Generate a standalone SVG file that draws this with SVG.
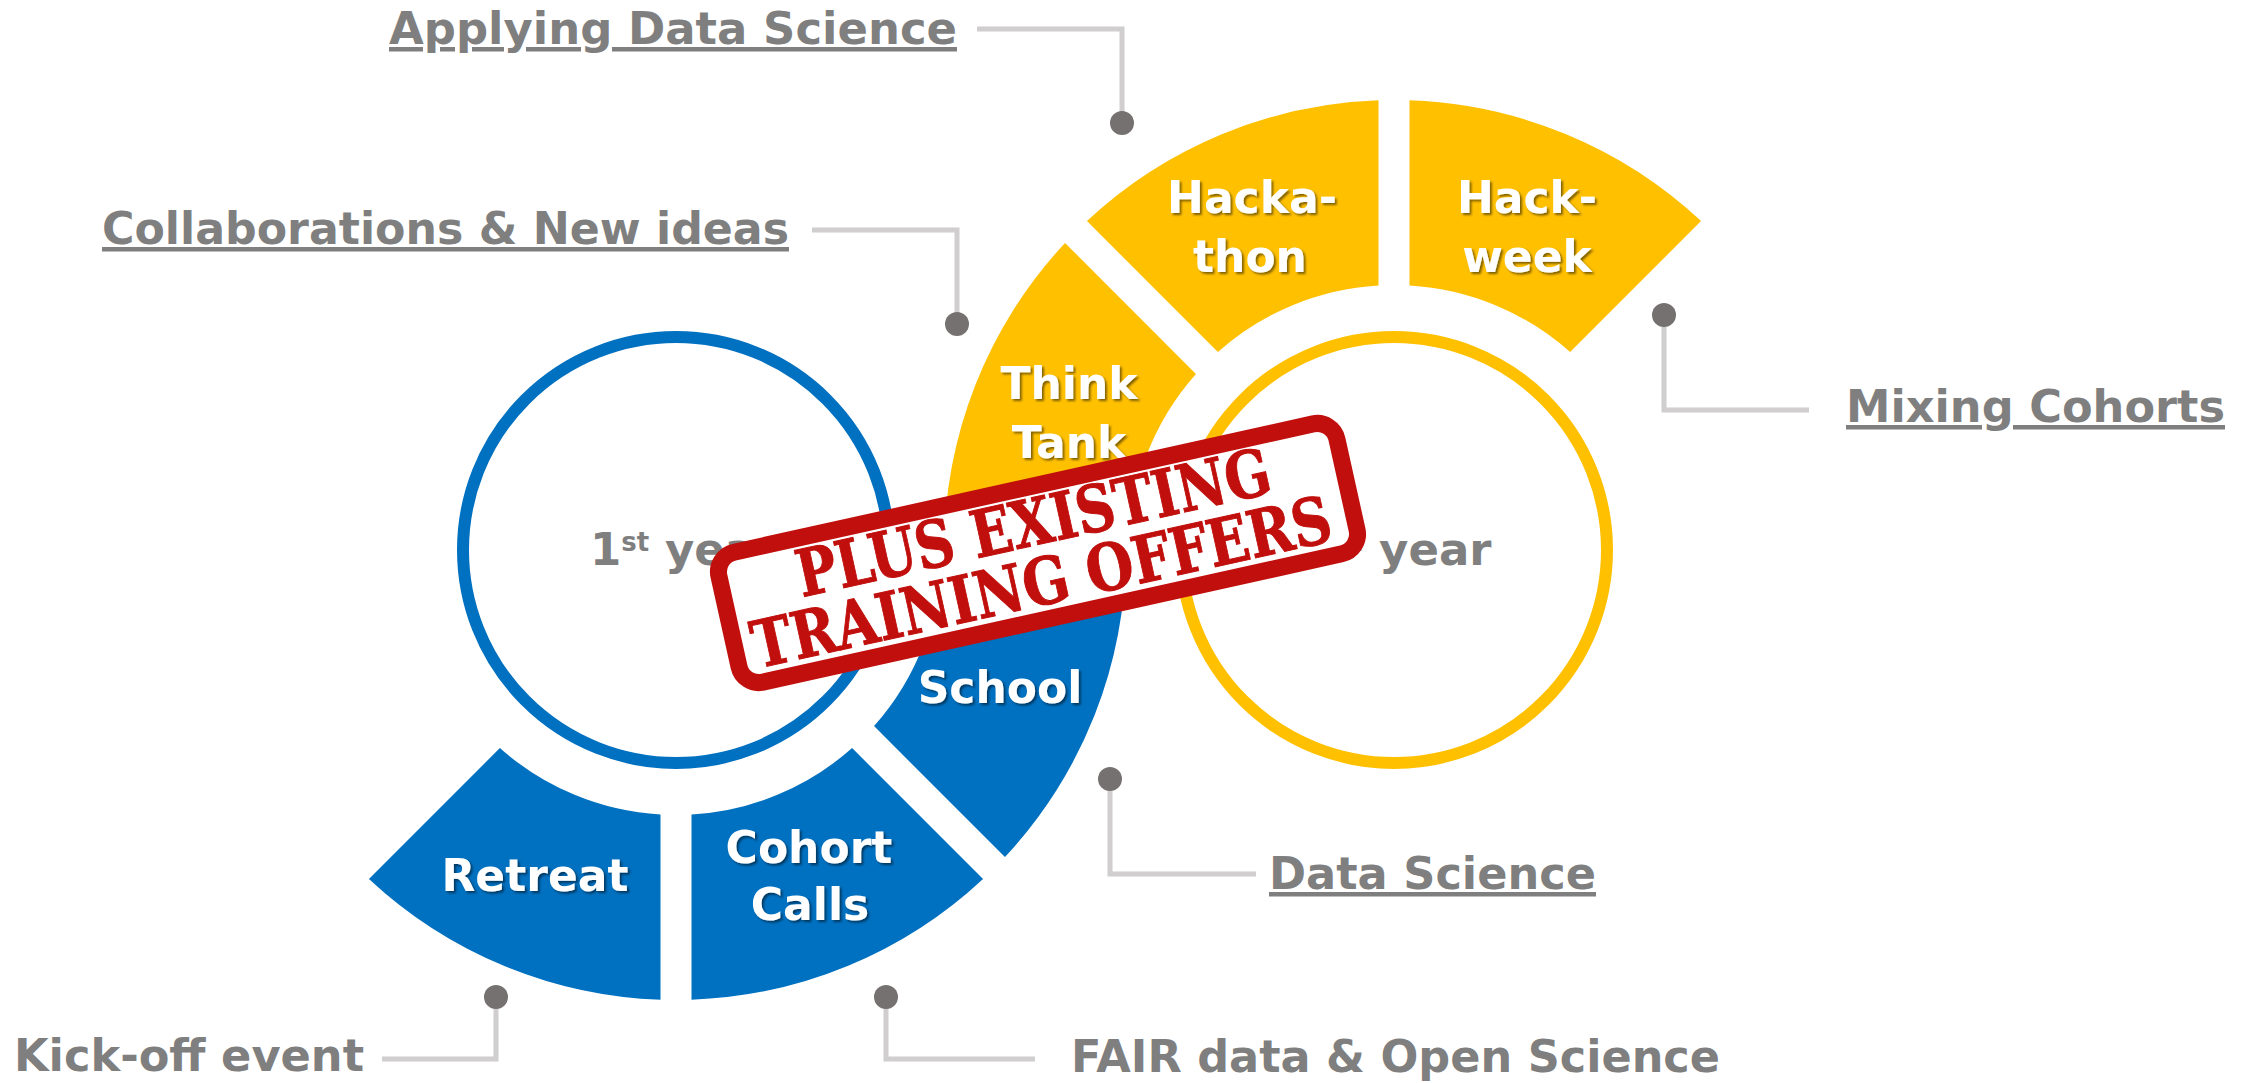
<svg xmlns="http://www.w3.org/2000/svg" width="2246" height="1083" viewBox="0 0 2246 1083">
<defs>
<style>
.blue{fill:#0070C0}
.yel{fill:#FFC000}
.seg{font-family:"DejaVu Sans","Liberation Sans",sans-serif;font-weight:700;font-size:44px;fill:#FFFFFF;text-anchor:middle;filter:url(#sh)}
.lbl{font-family:"DejaVu Sans","Liberation Sans",sans-serif;font-weight:700;font-size:45px;fill:#7F7F7F}
.ul{text-decoration:underline}
.yr{font-family:"DejaVu Sans","Liberation Sans",sans-serif;font-weight:700;font-size:45px;fill:#7F7F7F}
.con{fill:none;stroke:#D0CECE;stroke-width:5}
.dot{fill:#767171}
.stamp{font-family:"DejaVu Serif","Liberation Serif",serif;font-weight:700;font-size:65px;fill:#C00F0C;stroke:#C00F0C;stroke-width:1}
</style>
<filter id="sh" x="-10%" y="-20%" width="130%" height="150%">
<feDropShadow dx="2" dy="2" stdDeviation="1.2" flood-color="#000000" flood-opacity="0.5"/>
</filter>
</defs>
<rect width="2246" height="1083" fill="#FFFFFF"/>

<g id="connectors">
<path class="con" d="M977,29 H1122 V123"/>
<path class="con" d="M812,230 H957 V324"/>
<path class="con" d="M1664,315 V410 H1809"/>
<path class="con" d="M1110,779 V874 H1256"/>
<path class="con" d="M886,997 V1059 H1035"/>
<path class="con" d="M496,997 V1059 H382"/>
<circle class="dot" cx="1122" cy="123" r="12"/>
<circle class="dot" cx="957" cy="324" r="12"/>
<circle class="dot" cx="1664" cy="315" r="12"/>
<circle class="dot" cx="1110" cy="779" r="12"/>
<circle class="dot" cx="886" cy="997" r="12"/>
<circle class="dot" cx="496" cy="997" r="12"/>
</g>

<g id="first-year">
<circle cx="676" cy="550" r="213" fill="#FFFFFF" stroke="#0070C0" stroke-width="12"/>
<text class="yr" x="590" y="565">1<tspan font-size="26" dy="-14">st</tspan><tspan dy="14"> year</tspan></text>
</g>
<g id="second-year">
<circle cx="1394" cy="550" r="213" fill="#FFFFFF" stroke="#FFC000" stroke-width="12"/>
<text class="yr" x="1295" y="565">2<tspan font-size="26" dy="-14">nd</tspan><tspan dy="14"> year</tspan></text>
</g>

<g id="retreat">
<path class="blue" d="M660.5,999.73 A450,450 0 0 1 368.95,878.97 L499.89,748.02 A265,265 0 0 0 660.5,814.55 Z"/>
<text class="seg" x="535" y="891">Retreat</text>
</g>
<g id="cohort-calls">
<path class="blue" d="M691.5,999.73 A450,450 0 0 0 983.05,878.97 L852.11,748.02 A265,265 0 0 1 691.5,814.55 Z"/>
<text class="seg" x="809" y="863">Cohort</text>
<text class="seg" x="810" y="920">Calls</text>
</g>
<g id="school">
<path class="blue" d="M1126,550 A450,450 0 0 1 1004.97,857.05 L874.02,726.11 A265,265 0 0 0 941,550 Z"/>
<text class="seg" x="1000" y="703">School</text>
</g>
<g id="think-tank">
<path class="yel" d="M944,550 A450,450 0 0 1 1065.03,242.95 L1195.98,373.89 A265,265 0 0 0 1129,550 Z"/>
<text class="seg" x="1069" y="399">Think</text>
<text class="seg" x="1069" y="458">Tank</text>
</g>
<g id="hackathon">
<path class="yel" d="M1086.95,221.03 A450,450 0 0 1 1378.5,100.27 L1378.5,285.45 A265,265 0 0 0 1217.89,351.98 Z"/>
<text class="seg" x="1252" y="213">Hacka-</text>
<text class="seg" x="1250" y="272">thon</text>
</g>
<g id="hackweek">
<path class="yel" d="M1409.5,100.27 A450,450 0 0 1 1701.05,221.03 L1570.11,351.98 A265,265 0 0 0 1409.5,285.45 Z"/>
<text class="seg" x="1527" y="213">Hack-</text>
<text class="seg" x="1527" y="272">week</text>
</g>

<g id="labels">
<text class="lbl ul" x="389" y="44" textLength="568" lengthAdjust="spacingAndGlyphs">Applying Data Science</text>
<text class="lbl ul" x="102" y="244" textLength="687" lengthAdjust="spacingAndGlyphs">Collaborations &amp; New ideas</text>
<text class="lbl ul" x="1846" y="422" textLength="379" lengthAdjust="spacingAndGlyphs">Mixing Cohorts</text>
<text class="lbl ul" x="1269" y="889" textLength="327" lengthAdjust="spacingAndGlyphs">Data Science</text>
<text class="lbl" x="1071" y="1072" textLength="649" lengthAdjust="spacingAndGlyphs">FAIR data &amp; Open Science</text>
<text class="lbl" x="14" y="1071" textLength="350" lengthAdjust="spacingAndGlyphs">Kick-off event</text>
</g>

<g id="stamp" transform="translate(1038,553) rotate(-12.5)">
<rect x="-316.5" y="-66.5" width="633" height="133" rx="20" fill="#FFFFFF" stroke="#C00F0C" stroke-width="17"/>
<text class="stamp" x="-240" y="-8" textLength="484" lengthAdjust="spacingAndGlyphs">PLUS EXISTING</text>
<text class="stamp" x="-299" y="52" textLength="592" lengthAdjust="spacingAndGlyphs">TRAINING OFFERS</text>
</g>
</svg>
